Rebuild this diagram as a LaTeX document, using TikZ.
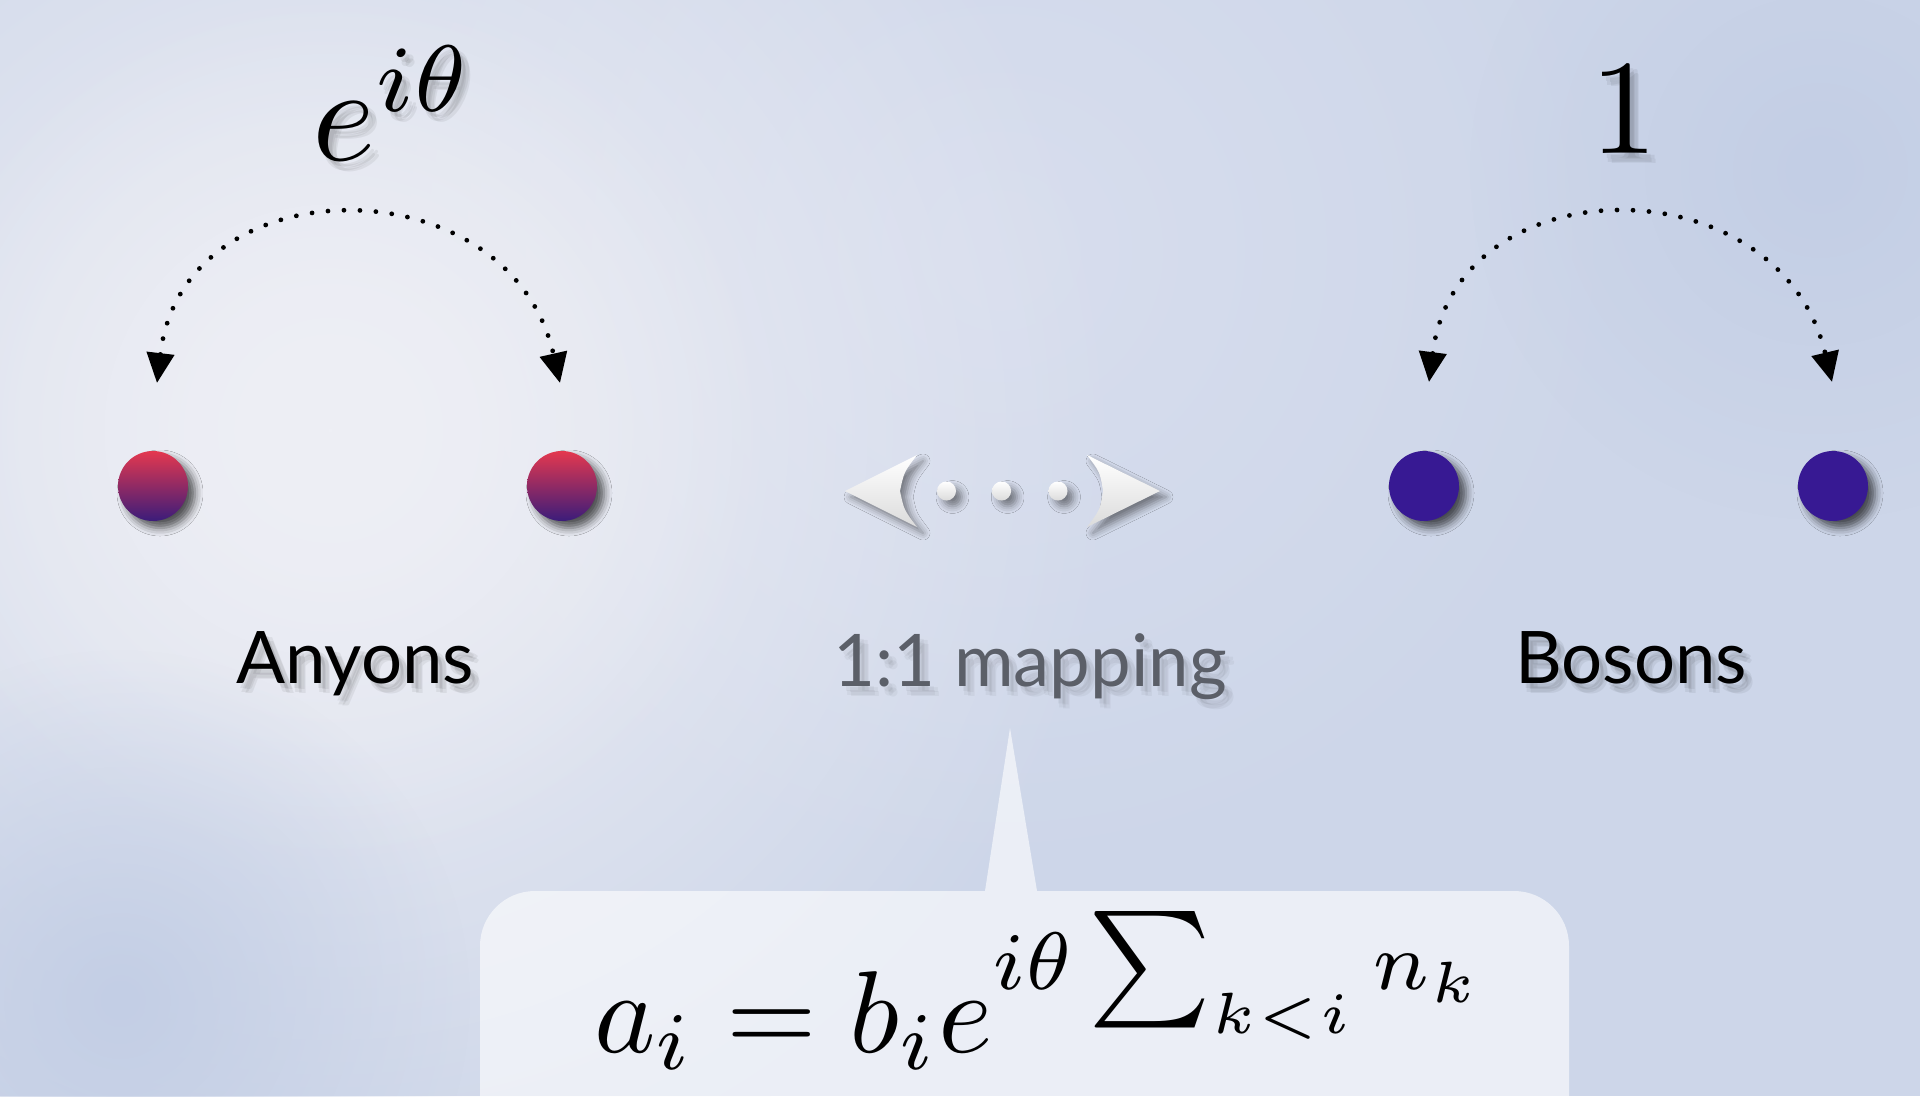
\documentclass[tikz,border=0pt]{standalone}
\usepackage{fontspec}
\usepackage{graphicx}
\newfontfamily\labelfont{Lato}
\usetikzlibrary{arrows.meta,shadows.blur,fadings}
\definecolor{bgbase}{HTML}{CDD6E9}
\definecolor{bglight}{HTML}{EEEFF5}
\definecolor{bgmid}{HTML}{D8DEEE}
\definecolor{bgdark}{HTML}{C3CEE5}
\definecolor{anytop}{HTML}{E4384F}
\definecolor{anybot}{HTML}{3B1C7A}
\definecolor{boson}{HTML}{371993}
\definecolor{mapgray}{HTML}{5B5F68}
\tikzfading[name=softdisc, inner color=transparent!0, outer color=transparent!100]
\tikzset{
  arcarrow/.style={line width=4.8pt, line cap=round, dash pattern=on 0pt off 16pt,
    {Triangle[length=30pt,width=27pt]}-{Triangle[length=30pt,width=27pt]}},
  pshadow/.style={blur shadow={shadow xshift=7pt, shadow yshift=-7pt, shadow blur radius=8pt, shadow opacity=65}},
  anyon/.style={circle, minimum size=70pt, inner sep=0pt, top color=anytop, bottom color=anybot, pshadow},
  bosonp/.style={circle, minimum size=70pt, inner sep=0pt, fill=boson, pshadow},
  arrowpart/.style={top color=white, bottom color=black!14, blur shadow={shadow xshift=6pt, shadow yshift=-6pt, shadow blur radius=7pt, shadow opacity=45}},
  lbl/.style={font=\labelfont\fontsize{72.5}{80}\selectfont, anchor=base},
  shd/.style={text=black, opacity=0.06},
}
\begin{document}
\begin{tikzpicture}[x=1pt,y=-1pt]
\useasboundingbox (0,0) rectangle (1920,1096);
\clip (0,0) rectangle (1920,1096);
% background
\fill[bgbase] (0,0) rectangle (1920,1096);
\fill[bgmid, path fading=softdisc] (1000,250) circle (650);
\fill[bglight, path fading=softdisc] (330,430) circle (800);
\fill[bglight, path fading=softdisc] (330,430) circle (450);
\fill[bgdark, path fading=softdisc] (1820,170) circle (350);
\fill[bgdark, path fading=softdisc] (120,1000) circle (350);
% callout box
\fill[white, opacity=0.6] (480,946) .. controls (480,915.6) and (504.6,891) .. (535,891)
  -- (985,891) -- (1010,728) -- (1037,891) -- (1514,891)
  .. controls (1544.4,891) and (1569,915.6) .. (1569,946) -- (1569,1150) -- (480,1150) -- cycle;
% particles
\node[anyon] (a1) at (153,486) {};
\node[anyon] (a2) at (562,486) {};
\node[bosonp] (b1) at (1424,486) {};
\node[bosonp] (b2) at (1833,486) {};
% exchange arcs
\coordinate (a1t) at (157,383);
\coordinate (a2t) at (560,383);
\coordinate (b1t) at (1429,382);
\coordinate (b2t) at (1832,382);
\draw[arcarrow] (a1t) .. controls (183,162) and (510,162) .. (a2t);
\draw[arcarrow] (b1t) .. controls (1457,162) and (1780,162) .. (b2t);
% central double arrow
\path[arrowpart] (845,491) -- (917,455) .. controls (904,472) .. (900,491) .. controls (904,510) .. (917,527) -- cycle;
\path[arrowpart] (1160,491) -- (1087,455) .. controls (1100,472) .. (1103,491) .. controls (1100,510) .. (1087,527) -- cycle;
\foreach \x [count=\i] in {946.5,1001.6,1058} {
  \node[circle, minimum size=19pt, inner sep=0pt, arrowpart] (dot\i) at (\x,491) {};
}
% soft text shadows
\foreach \dx/\dy [count=\i] in {4/5,8/6,5/9,9/10} {
  \node[lbl, shd] (sa\i) at (355+\dx,683+\dy) {Anyons};
  \node[lbl, shd] (sb\i) at (1631+\dx,683+\dy) {Bosons};
  \node[lbl, shd, opacity=0.04] (sm\i) at (1030+\dx,686+\dy) {1:1 mapping};
  \node[anchor=base west, shd, inner sep=0pt] (se\i) at (312+\dx,160+\dy) {\scalebox{13.5}{$e^{i\theta}$}};
  \node[anchor=base, shd, inner sep=0pt] (so\i) at (1624+\dx,153+\dy) {\scalebox{13.5}{$1$}};
}
% labels
\node[lbl, text=black] (anyons) at (355,683) {Anyons};
\node[lbl, text=black] (bosons) at (1631,683) {Bosons};
\node[lbl, text=mapgray] (mapping) at (1030,686) {1:1 mapping};
\node[anchor=base west, inner sep=0pt] (phase) at (312,160) {\scalebox{13.5}{$e^{i\theta}$}};
\node[anchor=base, inner sep=0pt] (one) at (1624,153) {\scalebox{13.5}{$1$}};
\node[anchor=base west, inner sep=0pt] (formula) at (594,1052) {\scalebox{11.65}{$a_i = b_i e^{i\theta\sum_{k<i} n_k}$}};
\end{tikzpicture}
\end{document}
